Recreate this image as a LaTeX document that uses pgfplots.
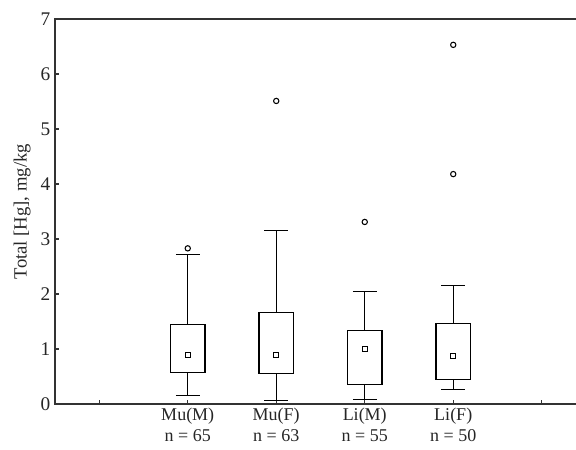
\documentclass[border=0pt]{standalone}
\usepackage{pgfplots}
\pgfplotsset{compat=1.18}
\usepgfplotslibrary{statistics}
\usepackage{fontspec}
\setmainfont{Liberation Serif}

\begin{document}
\begin{tikzpicture}
% the reference is cropped on the right
\clip (-41.25pt,-34.5pt) rectangle (390.75pt,303pt);
\begin{axis}[
    scale only axis,
    width=398.25pt, height=288.75pt,
    xmin=-0.5, xmax=5.5, ymin=0, ymax=7,
    axis line style={black!80, line width=0.8pt},
    xtick={0,1,2,3,4,5},
    xticklabels={,{Mu(M)\\n = 65},{Mu(F)\\n = 63},{Li(M)\\n = 55},{Li(F)\\n = 50},},
    ytick={0,1,2,3,4,5,6,7},
    xtick pos=left, ytick pos=left,
    tick align=inside, major tick length=3pt,
    tick style={black!80, line width=0.8pt},
    /pgf/number format/assume math mode=true,
    xticklabel style={align=center, yshift=-2pt, inner sep=1pt,
        font=\fontsize{13.5}{15.5}\selectfont, text=black!85},
    yticklabel style={font=\fontsize{14.5}{15}\selectfont, text=black!85},
    ylabel={Total [Hg], mg/kg},
    ylabel style={at={(axis description cs:-0.062,0.5)}, anchor=center,
        font=\fontsize{14}{15}\selectfont, text=black!85},
    boxplot/draw direction=y,
    boxplot/box extend=0.39,
    boxplot/whisker extend=0.27,
    boxplot/every median/.style={draw=none},
]
\addplot[black, line width=0.8pt, mark=o, mark size=2pt, mark options={line width=0.8pt},
    boxplot prepared={draw position=1, median=0.89, lower quartile=0.57,
        upper quartile=1.45, lower whisker=0.16, upper whisker=2.72}]
    coordinates {(1,2.83)};
\addplot[black, line width=0.8pt, mark=o, mark size=2pt, mark options={line width=0.8pt},
    boxplot prepared={draw position=2, median=0.89, lower quartile=0.55,
        upper quartile=1.67, lower whisker=0.06, upper whisker=3.15}]
    coordinates {(2,5.51)};
\addplot[black, line width=0.8pt, mark=o, mark size=2pt, mark options={line width=0.8pt},
    boxplot prepared={draw position=3, median=1.00, lower quartile=0.35,
        upper quartile=1.33, lower whisker=0.08, upper whisker=2.05}]
    coordinates {(3,3.31)};
\addplot[black, line width=0.8pt, mark=o, mark size=2pt, mark options={line width=0.8pt},
    boxplot prepared={draw position=4, median=0.87, lower quartile=0.44,
        upper quartile=1.47, lower whisker=0.26, upper whisker=2.16}]
    coordinates {(4,4.18) (4,6.53)};
% medians are shown as small open squares
\addplot[only marks, mark=square, mark size=1.9pt, mark options={black, line width=0.8pt}]
    coordinates {(1,0.89) (2,0.89) (3,1.00) (4,0.87)};
\end{axis}
\end{tikzpicture}
\end{document}
